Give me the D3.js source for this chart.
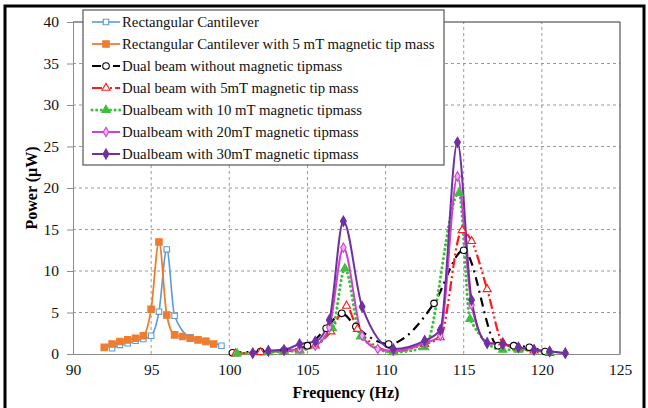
<!DOCTYPE html>
<html>
<head>
<meta charset="utf-8">
<script src="https://cdn.jsdelivr.net/npm/d3@7"></script>
<style>
  body { margin: 0; background: #fff; }
  svg text { font-family: "Liberation Serif", "Times New Roman", serif; }
</style>
</head>
<body>
<div id="chart"></div>
<script>
var width = 648,
    height = 408;

// axis ticks
var xTicks = [90, 95, 100, 105, 110, 115, 120, 125];
var yTicks = [0, 5, 10, 15, 20, 25, 30, 35, 40];

// Rectangular Cantilever
var rectFreq = [92.5, 93, 93.5, 94, 94.5, 95, 95.5, 96, 96.5, 97.5, 98.5, 99.5];
var rectPower = [0.7, 1.1, 1.3, 1.6, 1.8, 2.2, 5.1, 12.6, 4.6, 2.0, 1.6, 1.0];

// Rectangular Cantilever with 5 mT tip mass
var rect5Freq = [92, 92.5, 93, 93.5, 94, 94.5, 95, 95.5, 96, 96.5, 97, 97.5, 98, 98.5, 99];
var rect5Power = [0.8, 1.2, 1.5, 1.7, 1.9, 2.2, 5.4, 13.5, 4.7, 2.3, 2.1, 1.9, 1.7, 1.5, 1.2];

// Dual beam without magnetic tipmass
var dualFreq = [100.2, 102, 103.5, 105, 106.2, 107.2, 108.1, 110.2, 113.1, 115, 117.2, 118.2, 119.2, 120.2];
var dualPower = [0.15, 0.3, 0.4, 1.0, 3.1, 4.9, 3.3, 1.2, 6.1, 12.5, 1.0, 1.0, 0.8, 0.3];

// Dual beam with 5mT
var dual5Freq = [100.4, 102, 103.5, 104.5, 105.5, 106.5, 107.5, 108.2, 110.5, 112.5, 113.5, 114.9, 115.5, 116.5, 117.5, 118.5, 119.5, 120.5];
var dual5Power = [0.05, 0.2, 0.3, 0.5, 1.0, 2.7, 5.8, 3.0, 0.3, 1.2, 2.0, 14.9, 13.6, 7.8, 1.4, 0.6, 0.4, 0.1];

// Dualbeam with 10 mT
var dual10Freq = [100.5, 102.5, 103.5, 104.5, 106.6, 107.4, 108.4, 110.5, 112.5, 114.7, 115.4, 117.5, 118.5, 120.5];
var dual10Power = [0.05, 0.2, 0.3, 0.4, 3.1, 10.3, 2.1, 0.2, 0.8, 19.4, 4.2, 0.5, 0.5, 0.2];

// Dualbeam with 20mT
var dual20Freq = [101.5, 102.5, 103.5, 104.5, 105.5, 106.4, 107.3, 108.5, 109.5, 110.5, 112.5, 113.5, 114.6, 115.5, 116.5, 117.5, 118.5, 119.5, 120.5, 121.5];
var dual20Power = [0.1, 0.3, 0.4, 0.6, 1.0, 3.2, 12.8, 2.2, 0.6, 0.4, 1.3, 2.2, 21.4, 5.9, 1.4, 1.1, 0.8, 0.5, 0.3, 0.1];

// Dualbeam with 30mT
var dual30Freq = [101.5, 102.5, 103.5, 104.5, 105.5, 106.4, 107.3, 108.5, 110.5, 112.5, 113.5, 114.6, 115.5, 116.5, 117.5, 118.5, 119.5, 120.5, 121.5];
var dual30Power = [0.1, 0.4, 0.5, 1.2, 1.5, 4.1, 16.0, 5.7, 0.6, 1.6, 2.9, 25.5, 6.5, 1.3, 1.2, 0.8, 0.5, 0.3, 0.1];

var seriesNames = [
    "Rectangular Cantilever",
    "Rectangular Cantilever with 5 mT magnetic tip mass",
    "Dual beam without magnetic tipmass",
    "Dual beam with 5mT magnetic tip mass",
    "Dualbeam with 10 mT magnetic tipmass",
    "Dualbeam with 20mT magnetic tipmass",
    "Dualbeam with 30mT magnetic tipmass"
];

function zip(xs, ys) {
    return xs.map(function (x, i) { return { f: x, p: ys[i] } });
}

var series = [
    { name: seriesNames[0], data: zip(rectFreq, rectPower), color: "#5b9bd5", width: 1.6, dash: null, symbol: d3.symbolSquare, size: 30, fill: "#fff" },
    { name: seriesNames[1], data: zip(rect5Freq, rect5Power), color: "#ed7d31", width: 1.8, dash: null, symbol: d3.symbolSquare, size: 42, fill: "#ed7d31" },
    { name: seriesNames[2], data: zip(dualFreq, dualPower), color: "#000", width: 2.2, dash: "9,5,2,5", symbol: d3.symbolCircle, size: 34, fill: "#fff" },
    { name: seriesNames[3], data: zip(dual5Freq, dual5Power), color: "#ff1a1a", width: 2.2, dash: "10,3,2,3,2,3", symbol: d3.symbolTriangle, size: 28, fill: "#fff" },
    { name: seriesNames[4], data: zip(dual10Freq, dual10Power), color: "#3cc03c", width: 3, dash: "0.1,4.5", symbol: d3.symbolTriangle, size: 30, fill: "#3cc03c" },
    { name: seriesNames[5], data: zip(dual20Freq, dual20Power), color: "#cc44cc", width: 2, dash: null, symbol: d3.symbolDiamond, size: 26, fill: "#f0b0f0" },
    { name: seriesNames[6], data: zip(dual30Freq, dual30Power), color: "#7030a0", width: 2, dash: null, symbol: d3.symbolDiamond, size: 30, fill: "#7030a0" }
];

var svg = d3.select("#chart")
    .append("svg")
    .attr("width", width)
    .attr("height", height);

svg.append("rect").attr("width", width).attr("height", height).attr("fill", "#fff");

// outer frame
svg.append("rect")
    .attr("x", 5).attr("y", 6)
    .attr("width", 639).attr("height", 410)
    .attr("fill", "none")
    .attr("stroke", "#000")
    .attr("stroke-width", 3);

var x = d3.scaleLinear().domain([90, 125]).range([73, 620]);
var y = d3.scaleLinear().domain([0, 40]).range([354, 22]);

// grid
svg.append("g").selectAll("line")
    .data(xTicks.slice(1, -1))
    .enter().append("line")
    .attr("x1", d => x(d)).attr("x2", d => x(d))
    .attr("y1", y(0)).attr("y2", y(40))
    .attr("stroke", "#9a9a9a")
    .attr("stroke-dasharray", "3,3");

svg.append("g").selectAll("line")
    .data(yTicks.slice(1, -1))
    .enter().append("line")
    .attr("x1", x(90)).attr("x2", x(125))
    .attr("y1", d => y(d)).attr("y2", d => y(d))
    .attr("stroke", "#9a9a9a")
    .attr("stroke-dasharray", "3,3");

// plot area border
svg.append("line").attr("x1", x(90)).attr("x2", x(125)).attr("y1", y(40)).attr("y2", y(40)).attr("stroke", "#333");
svg.append("line").attr("x1", x(125)).attr("x2", x(125)).attr("y1", y(40)).attr("y2", y(0)).attr("stroke", "#333");

// axes
var xAxis = svg.append("g")
    .attr("transform", "translate(0," + y(0) + ")")
    .call(d3.axisBottom(x).tickValues(xTicks).tickSize(0).tickPadding(10));
var yAxis = svg.append("g")
    .attr("transform", "translate(" + x(90) + ",0)")
    .call(d3.axisLeft(y).tickValues(yTicks).tickSize(6).tickPadding(8));

[xAxis, yAxis].forEach(function (a) {
    a.attr("font-family", null);
    a.select(".domain").attr("stroke", "#8c8c8c");
    a.selectAll(".tick line").attr("stroke", "#8c8c8c");
    a.selectAll("text")
        .style("font-family", '"Liberation Serif", serif')
        .style("font-size", "15.5px")
        .attr("fill", "#111");
});
xAxis.selectAll(".tick line").remove();

// axis titles
svg.append("text")
    .attr("x", 346).attr("y", 398)
    .attr("text-anchor", "middle")
    .style("font-size", "16px")
    .style("font-weight", "bold")
    .text("Frequency (Hz)");

svg.append("text")
    .attr("transform", "translate(37,188) rotate(-90)")
    .attr("text-anchor", "middle")
    .style("font-size", "16px")
    .style("font-weight", "bold")
    .text("Power (μW)");

// lines
var line = d3.line()
    .x(d => x(d.f))
    .y(d => y(d.p))
    .curve(d3.curveMonotoneX);

var plot = svg.append("g");

series.forEach(function (s) {
    plot.append("path")
        .datum(s.data)
        .attr("d", line)
        .attr("fill", "none")
        .attr("stroke", s.color)
        .attr("stroke-width", s.width)
        .attr("stroke-linecap", s.dash === "0.1,4.5" ? "round" : "butt")
        .attr("stroke-dasharray", s.dash);
});

series.forEach(function (s) {
    plot.append("g").selectAll("path")
        .data(s.data)
        .enter().append("path")
        .attr("d", d3.symbol().type(s.symbol).size(s.size))
        .attr("transform", d => "translate(" + x(d.f) + "," + y(d.p) + ")")
        .attr("fill", s.fill)
        .attr("stroke", s.color)
        .attr("stroke-width", 1.1);
});

// legend
var legend = svg.append("g");
legend.append("rect")
    .attr("x", 83).attr("y", 10)
    .attr("width", 361).attr("height", 155)
    .attr("fill", "#fff")
    .attr("stroke", "#555")
    .attr("stroke-width", 1.2);

var items = legend.selectAll(".item")
    .data(series)
    .enter().append("g")
    .attr("class", "item")
    .attr("transform", (d, i) => "translate(0," + (22 + i * 22) + ")");

items.append("line")
    .attr("x1", 92).attr("x2", 120)
    .attr("y1", 0).attr("y2", 0)
    .attr("stroke", d => d.color)
    .attr("stroke-width", d => d.width)
    .attr("stroke-linecap", d => d.dash === "0.1,4.5" ? "round" : "butt")
    .attr("stroke-dasharray", d => d.dash);

items.append("path")
    .attr("d", d => d3.symbol().type(d.symbol).size(d.size)())
    .attr("transform", "translate(106,0)")
    .attr("fill", d => d.fill)
    .attr("stroke", d => d.color)
    .attr("stroke-width", 1.1);

items.append("text")
    .attr("x", 122).attr("y", 5)
    .style("font-size", "14.8px")
    .attr("fill", "#111")
    .text(d => d.name);
</script>
</body>
</html>
